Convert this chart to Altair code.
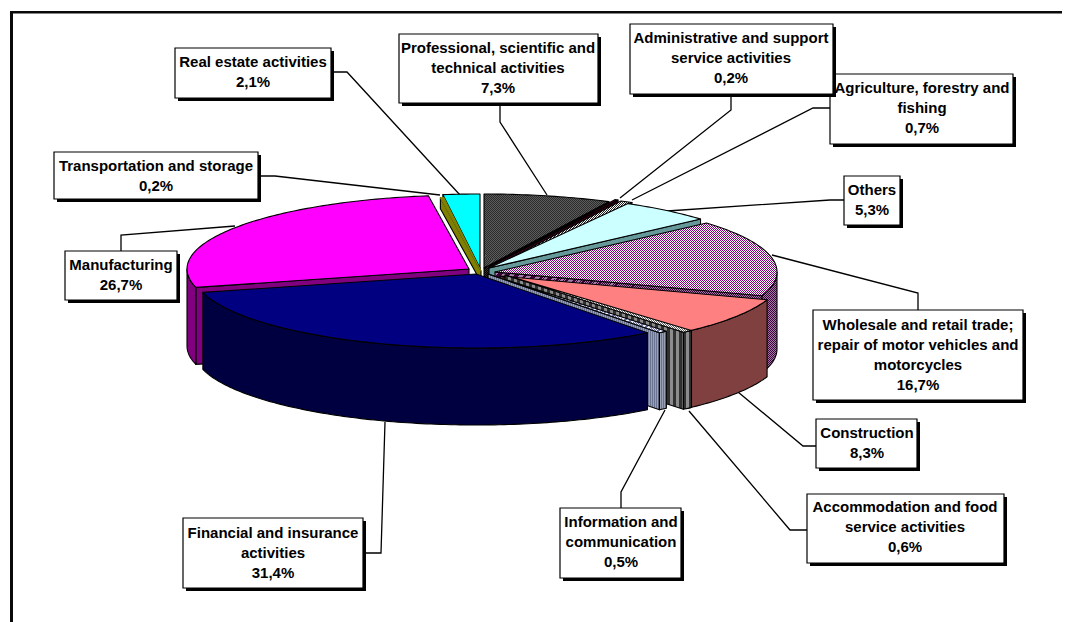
import math
import numpy as np
import altair as alt

# ---------- data ----------
categories = ["Professional, scientific and\ntechnical activities",
              "Administrative and support\nservice activities",
              "Agriculture, forestry and\nfishing",
              "Others",
              "Wholesale and retail trade;\nrepair of motor vehicles and\nmotorcycles",
              "Construction",
              "Accommodation and food\nservice activities",
              "Information and\ncommunication",
              "Financial and insurance\nactivities",
              "Manufacturing",
              "Transportation and storage",
              "Real estate activities"]
values = [7.3, 0.2, 0.7, 5.3, 16.7, 8.3, 0.6, 0.5, 31.4, 26.7, 0.2, 2.1]

# ---------- layout and style ----------
RX, RY, DEPTH = 282, 74, 77
LINE_H = 19.7
apex = [(484, 268), (490, 266), (493, 267), (489, 268), (495, 272), (500, 276),
        (505, 275), (488, 274), (476, 274), (469, 269), (481, 271), (480, 268)]
wall_depth = [DEPTH] * 10 + [11, 11]
draw_order = [11, 10, 9, 0, 1, 2, 3, 4, 5, 6, 7, 8]


def hatch(a, b, period, w, h, mode):
    span = (w + h) if mode == "diag" else w
    n = max(2, int(math.ceil(span / period)))
    stops = []
    for i in range(n):
        for off, c in ((i / n, a), ((i + .5) / n, a), ((i + .5) / n, b), ((i + 1) / n, b)):
            stops.append({"offset": round(off, 6), "color": c})
    if mode == "diag":
        r = h / w
        k = n * period / (w * (1 + r * r))
        return {"gradient": "linear", "x1": 0, "y1": 0, "x2": k, "y2": k * r, "stops": stops}
    return {"gradient": "linear", "x1": 0, "y1": 0, "x2": n * period / w, "y2": 0, "stops": stops}


top_style = [("#2c2c2c", "#5c5c5c", 2, "diag"), ("#800040", "#400020", 2, "diag"),
             ("#202020", "#ffffff", 2, "diag"), "#CCFFFF",
             ("#800080", "#ffffff", 2, "diag"), "#FF8080",
             ("#606060", "#ffffff", 2, "diag"), ("#6a70a0", "#f0f0ff", 2, "diag"),
             "#000080", "#FF00FF", "#808000", "#00FFFF"]
wall_style = [("#000000", "#303030", 2, "diag"), ("#400020", "#200010", 2, "diag"),
              ("#000000", "#808080", 2, "diag"), "#669999",
              ("#400040", "#a080a0", 2, "diag"), "#804040",
              ("#303030", "#8c8c8c", 6, "vert"), ("#6a7490", "#9aa0b4", 2, "vert"),
              "#000040", "#800080", "#808000", "#008080"]
top_stroke = {10: "#808000"}

label_boxes = [  # x0, x1, y0, y1, text centre x, text centre y
    (399, 598, 34, 103, 498, 68),
    (630, 833, 24, 94, 731, 58),
    (830, 1013, 74, 144, 922, 108),
    (844, 900, 176, 225, 872, 200),
    (813, 1023, 310, 400, 918, 355),
    (816, 917, 419, 468, 867, 443),
    (807, 1004, 494, 563, 905, 527),
    (560, 681, 508, 578, 621, 542),
    (183, 363, 518, 588, 273, 553),
    (65, 177, 251, 300, 121, 275),
    (54, 258, 152, 199, 156, 176),
    (175, 331, 48, 98, 253, 72),
]
box_order = [2, 0, 1, 3, 4, 5, 6, 7, 8, 9, 10, 11]
leaders = [
    [(500, 103), (500, 122), (547, 195)],
    [(731, 94), (731, 110), (620, 198)],
    [(830, 108), (813, 108), (632, 200)],
    [(844, 200), (830, 200), (667, 211)],
    [(918, 310), (918, 293), (772, 255)],
    [(816, 446), (803, 446), (738, 392)],
    [(807, 530), (790, 530), (689, 411)],
    [(621, 508), (621, 492), (665, 410)],
    [(363, 553), (381, 553), (385, 422)],
    [(121, 251), (121, 235), (235, 226)],
    [(258, 176), (275, 176), (440, 195)],
    [(331, 72), (347, 72), (460, 195)],
]

# ---------- helpers ----------
W, H = 1054, 614
PROJ = dict(type="identity", scale=1, translate=[-8, -8])
XS = alt.Scale(domain=[8, 8 + W], range=[0, W], nice=False, zero=False)
YS = alt.Scale(domain=[8, 8 + H], range=[0, H], nice=False, zero=False)
layers = []


def resolve(style, pts):
    if isinstance(style, str):
        return style
    xs = [p[0] for p in pts]
    ys = [p[1] for p in pts]
    w, h = max(max(xs) - min(xs), 1), max(max(ys) - min(ys), 1)
    a, b, period, mode = style
    return hatch(a, b, period, w, h, mode)


def poly(pts, style, stroke="#000000"):
    ring = [[float(x), float(y)] for x, y in pts]
    ring.append(ring[0])
    feat = {"type": "Feature", "properties": {}, "geometry": {"type": "Polygon", "coordinates": [ring]}}
    layers.append(alt.Chart(alt.Data(values=[feat])).mark_geoshape(
        fill=resolve(style, pts), stroke=stroke, strokeWidth=1.1, strokeJoin="round"
    ).project(**PROJ))


def rim(i, a0, a1):
    n = max(2, int(abs(a1 - a0)) + 2)
    cx, cy = apex[i]
    return [(cx + RX * math.sin(math.radians(t)), cy - RY * math.cos(math.radians(t)))
            for t in np.linspace(a0, a1, n)]


def rect(x0, x1, y0, y1, fill, stroke=None, sw=0):
    kw = dict(fill=fill, strokeWidth=sw)
    if stroke:
        kw["stroke"] = stroke
    return alt.Chart(alt.Data(values=[{"a": x0, "b": x1, "c": y0, "d": y1}])).mark_rect(**kw).encode(
        x=alt.X("a:Q", scale=XS, axis=None), x2="b:Q",
        y=alt.Y("c:Q", scale=YS, axis=None), y2="d:Q")


# ---------- frame ----------
layers.append(rect(10, 8 + W, 11, 13.5, "#0a0a0a"))
layers.append(rect(10, 13, 11, 8 + H, "#0a0a0a"))

# ---------- leaders (behind the pie) ----------
rows = []
for i, line in enumerate(leaders):
    for j, (x, y) in enumerate(line):
        rows.append({"id": i, "k": j, "x": x, "y": y})
layers.append(alt.Chart(alt.Data(values=rows)).mark_line(color="#000000", strokeWidth=1.3).encode(
    x=alt.X("x:Q", scale=XS, axis=None), y=alt.Y("y:Q", scale=YS, axis=None),
    detail="id:N", order="k:Q"))

# ---------- pie, back to front ----------
total = sum(values)
cum = np.cumsum([0] + values)
for i in draw_order:
    a0, a1 = 360 * cum[i] / total, 360 * cum[i + 1] / total
    d = wall_depth[i]
    c = apex[i]
    for ang in (a0, a1):
        s = math.sin(math.radians(ang))
        if (ang == a0 and s < 0) or (ang == a1 and s > 0):
            p = rim(i, ang, ang)[0]
            poly([c, p, (p[0], p[1] + d), (c[0], c[1] + d)], wall_style[i])
    w0, w1 = max(a0, 90), min(a1, 270)
    if w1 > w0:
        arc = rim(i, w0, w1)
        poly(arc + [(x, y + d) for x, y in reversed(arc)], wall_style[i])
    poly([c] + rim(i, a0, a1), top_style[i], top_stroke.get(i, "#000000"))

# ---------- label boxes ----------
for i in box_order:
    x0, x1, y0, y1, tx, ty = label_boxes[i]
    layers.append(rect(x0 + 3, x1 + 3, y0 + 3, y1 + 3, "#000000"))
    layers.append(rect(x0, x1, y0, y1, "#ffffff", "#000000", 1.2))

texts = []
for i in range(len(values)):
    body = f"{categories[i]}\n{str(values[i]).replace('.', ',')}%"
    n_lines = body.count("\n") + 1
    texts.append({"t": body, "x": label_boxes[i][4],
                  "y": label_boxes[i][5] - (n_lines - 1) / 2 * LINE_H})
layers.append(alt.Chart(alt.Data(values=texts)).mark_text(
    font="Liberation Sans", fontWeight="bold", fontSize=15, lineBreak="\n", lineHeight=LINE_H,
    align="center", baseline="middle", color="#000000"
).encode(x=alt.X("x:Q", scale=XS, axis=None), y=alt.Y("y:Q", scale=YS, axis=None), text="t:N"))

chart = alt.layer(*layers).properties(
    width=W, height=H, padding=0,
    autosize=alt.AutoSizeParams(type="none"), background="#ffffff"
).configure_view(stroke=None)

chart.save("out.html", embed_options={"renderer": "svg", "actions": False})
